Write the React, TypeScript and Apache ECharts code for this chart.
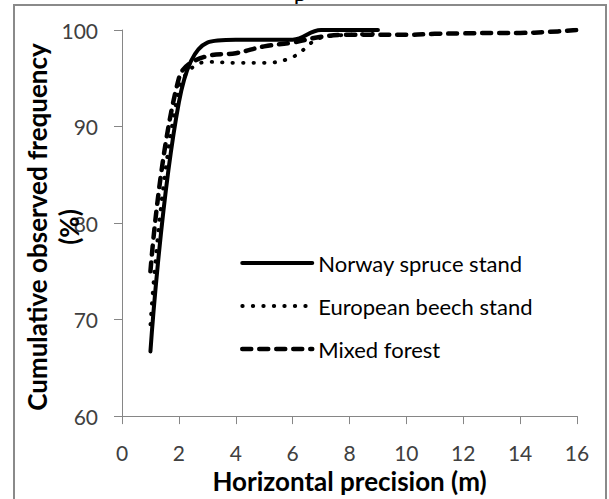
import React, { useEffect, useRef } from "react";
import * as echarts from "echarts";

const xTicks = [0, 2, 4, 6, 8, 10, 12, 14, 16];
const yTicks = [60, 70, 80, 90, 100];
const seriesNames = ["Norway spruce stand", "European beech stand", "Mixed forest"];

const norwayX = [1, 2, 3, 4, 5, 6, 7, 8, 9];
const norwayY = [66.7, 92.5, 98.7, 99.0, 99.0, 99.0, 100, 100, 100];

const beechX = [1, 2, 3, 4, 5, 6, 7, 8, 9];
const beechY = [69.5, 93.8, 96.7, 96.6, 96.6, 97.2, 99.2, 99.5, 99.6];

const mixedX = [1, 2, 3, 4, 5, 6, 7, 8, 9, 10, 11, 12, 13, 14, 15, 16];
const mixedY = [75, 95, 97.3, 97.6, 98.3, 98.7, 99.3, 99.5, 99.5, 99.5, 99.6, 99.65, 99.7, 99.7, 99.8, 100];

const xTitle = "Horizontal precision (m)";
const yTitle = "Cumulative observed frequency\n(%)";

const FONT = "Lato";

function pairs(xs: number[], ys: number[]) {
  return xs.map((x, i) => [x, ys[i]]);
}

const solidStyle = { color: "#000", width: 4, type: "solid" as const, cap: "round" as const };
const dotStyle = { color: "#000", width: 3.8, type: [0.5, 10], cap: "round" as const };
const dashStyle = { color: "#000", width: 4.5, type: [9, 8], cap: "round" as const };

export default function App() {
  const ref = useRef<HTMLDivElement>(null);
  useEffect(() => {
    if (!ref.current) return;
    const chart = echarts.init(ref.current, undefined, { renderer: "svg" });
    const axisColor = "#868686";
    const labelColor = "#404040";
    const styles = [solidStyle, dotStyle, dashStyle];
    chart.setOption({
      animation: false,
      backgroundColor: "#ffffff",
      grid: { left: 122, right: 32, top: 30, bottom: 73, containLabel: false },
      xAxis: {
        type: "value",
        min: xTicks[0],
        max: xTicks[xTicks.length - 1],
        interval: 2,
        name: xTitle,
        nameLocation: "middle",
        nameGap: 37,
        nameTextStyle: { fontFamily: FONT, fontWeight: "bold", fontSize: 26, color: "#000" },
        axisLine: { show: true, lineStyle: { color: axisColor, width: 1 } },
        axisTick: { show: true, inside: false, length: 8, lineStyle: { color: axisColor } },
        axisLabel: { fontFamily: FONT, fontSize: 21, color: labelColor, margin: 26 },
        splitLine: { show: false },
      },
      yAxis: {
        type: "value",
        min: yTicks[0],
        max: yTicks[yTicks.length - 1],
        interval: 10,
        axisLine: { show: true, lineStyle: { color: axisColor, width: 1 } },
        axisTick: { show: true, inside: false, length: 8, lineStyle: { color: axisColor } },
        axisLabel: { fontFamily: FONT, fontSize: 21, color: labelColor, margin: 24 },
        splitLine: { show: false },
      },
      legend: {
        orient: "vertical",
        left: 240,
        top: 252,
        padding: 0,
        itemWidth: 70,
        itemHeight: 20,
        itemGap: 21,
        selectedMode: false,
        itemStyle: { opacity: 0 },
        data: seriesNames.map((n, i) => ({ name: n, lineStyle: styles[i], itemStyle: { opacity: 0 } })),
        textStyle: { fontFamily: FONT, fontSize: 22, color: "#000", padding: [0, 0, 0, 1] },
      },
      graphic: [
        {
          type: "rect",
          shape: { x: 14, y: 5, width: 592, height: 520 },
          style: { fill: "none", stroke: "#8a8a8a", lineWidth: 2 },
          silent: true,
          z: 10,
        },
        {
          type: "text",
          x: 300,
          y: 5,
          style: {
            text: "p",
            font: "26px 'Liberation Serif'",
            fill: "#000",
            align: "center",
            verticalAlign: "bottom",
          },
          z: 5,
        },
        {
          type: "text",
          x: 53,
          y: 227,
          rotation: Math.PI / 2,
          style: {
            text: yTitle,
            fontFamily: FONT,
            fontWeight: "bold",
            fontSize: 26,
            lineHeight: 32,
            fill: "#000",
            align: "center",
            verticalAlign: "middle",
          },
          z: 20,
        },
      ],
      series: [
        {
          name: seriesNames[0],
          type: "line",
          data: pairs(norwayX, norwayY),
          smooth: 0.4,
          symbol: "none",
          lineStyle: solidStyle,
          itemStyle: { color: "#000" },
        },
        {
          name: seriesNames[1],
          type: "line",
          data: pairs(beechX, beechY),
          smooth: 0.4,
          symbol: "none",
          lineStyle: dotStyle,
          itemStyle: { color: "#000" },
        },
        {
          name: seriesNames[2],
          type: "line",
          data: pairs(mixedX, mixedY),
          smooth: 0.4,
          symbol: "none",
          lineStyle: dashStyle,
          itemStyle: { color: "#000" },
        },
      ],
    });
    return () => chart.dispose();
  }, []);
  return (
    <div
      ref={ref}
      style={{ position: "absolute", left: 0, top: 0, width: 609, height: 499 }}
    />
  );
}
